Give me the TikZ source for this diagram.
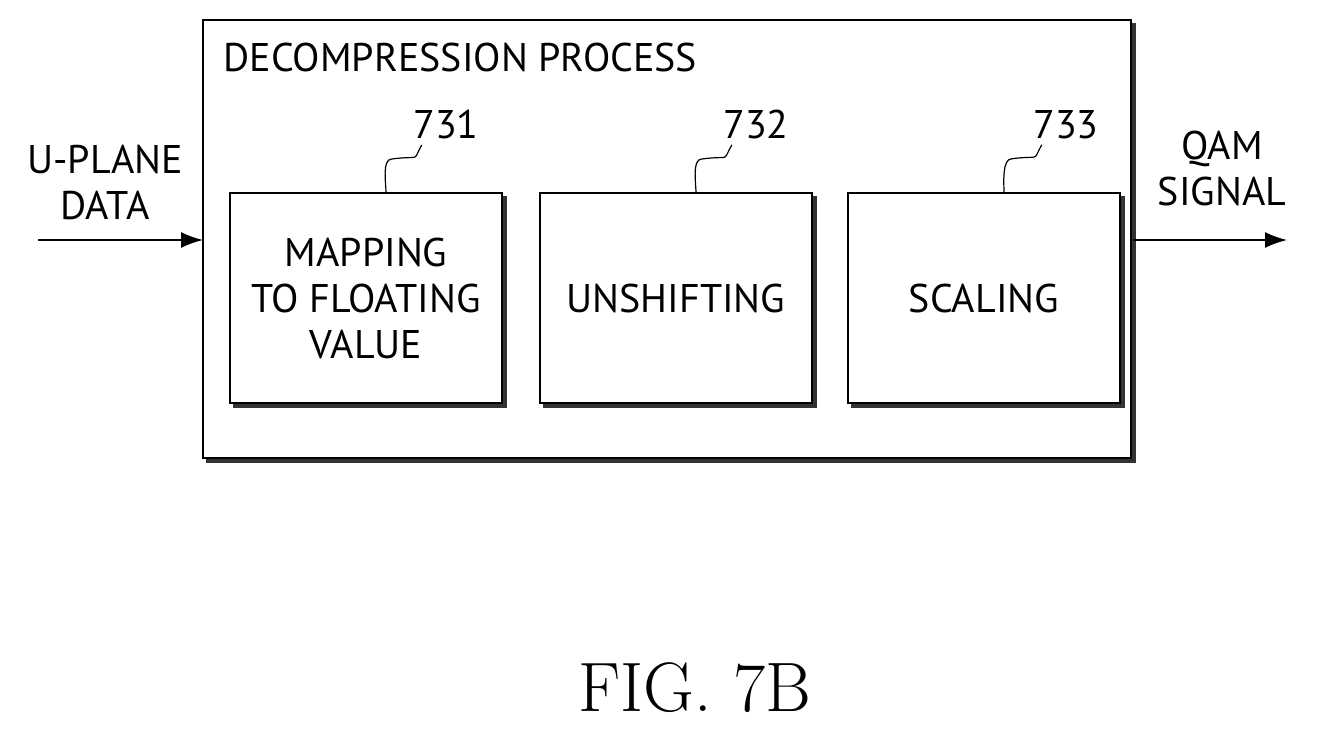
\documentclass[tikz,border=0pt]{standalone}
\usepackage{fontspec}
\setsansfont{PT Sans}
\usetikzlibrary{positioning,arrows.meta,decorations.pathmorphing}
\tikzset{
  block/.style={draw,fill=white,line width=1.6pt,minimum width=272pt,minimum height=210pt,align=center,
    font=\sffamily\fontsize{40}{46}\selectfont,inner sep=0pt},
  shadowed/.style={preaction={fill=black!80,draw=black!80,line width=1.6pt,transform canvas={shift={(4pt,-4pt)}}}},
  lbl/.style={font=\sffamily\fontsize{40}{46}\selectfont,align=center},
  leader/.style={line width=1.2pt},
  arr/.style={line width=1.6pt,-{Latex[length=22pt,width=16pt]}}
}
\begin{document}
\begin{tikzpicture}[x=1pt,y=-1pt]
  \useasboundingbox (0,0) rectangle (1319,741);
  % outer process box
  \draw[line width=1.6pt,fill=white,shadowed] (203,20) rectangle (1131,458);
  \node[lbl,anchor=west] (title) at (220,58) {DECOMPRESSION PROCESS};
  % blocks
  \node[block,shadowed] (map) at (366,298) {MAPPING\\TO FLOATING\\VALUE};
  \node[block,shadowed] (unsh) at (676,298) {UNSHIFTING};
  \node[block,shadowed] (scal) at (984,298) {SCALING};
  % reference numerals
  \node[lbl] (n731) at (446,125) {731};
  \node[lbl] (n732) at (756,125) {732};
  \node[lbl] (n733) at (1066,125) {733};
  \draw[leader] ([xshift=12pt,yshift=-2pt]n731.south west) .. controls +(-10,18) and +(30,-4) .. +(-30,14) .. controls +(-10,0) and +(0,-8) .. ([xshift=20pt]map.north);
  \draw[leader] ([xshift=12pt,yshift=-2pt]n732.south west) .. controls +(-10,18) and +(30,-4) .. +(-30,14) .. controls +(-10,0) and +(0,-8) .. ([xshift=20pt]unsh.north);
  \draw[leader] ([xshift=12pt,yshift=-2pt]n733.south west) .. controls +(-10,18) and +(30,-4) .. +(-30,14) .. controls +(-10,0) and +(0,-8) .. ([xshift=20pt]scal.north);
  % signals
  \node[lbl] (in) at (105,182) {U-PLANE\\DATA};
  \node[lbl] (out) at (1222,168) {QAM\\SIGNAL};
  \coordinate (inS) at (38,240);
  \coordinate (inE) at (203,240);
  \coordinate (outS) at (1133,240);
  \coordinate (outE) at (1287,240);
  \draw[arr] (inS) -- (inE);
  \draw[arr] (outS) -- (outE);
  \node[font=\rmfamily\fontsize{70}{70}\selectfont] (fig) at (695,688) {FIG. 7B};
\end{tikzpicture}
\end{document}
